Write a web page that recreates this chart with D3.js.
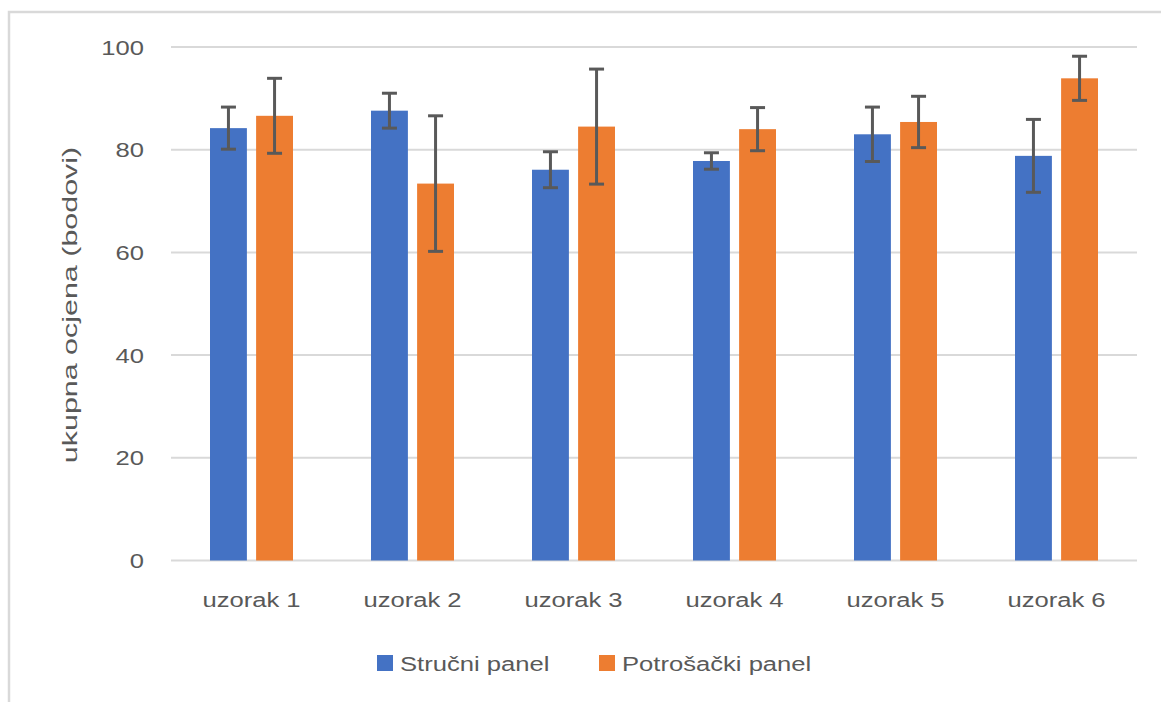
<!DOCTYPE html>
<html>
<head>
<meta charset="utf-8">
<script src="https://cdn.jsdelivr.net/npm/d3@7"></script>
<style>
  body { margin: 0; background: #fff; }
  text { font-family: "Liberation Sans", Arial, sans-serif; fill: #595959; }
</style>
</head>
<body>
<svg class="chart" width="1161" height="702"></svg>
<script>
var categories = ["uzorak 1", "uzorak 2", "uzorak 3", "uzorak 4", "uzorak 5", "uzorak 6"];
var seriesNames = ["Stručni panel", "Potrošački panel"];
var strucniValues = [84.2, 87.6, 76.1, 77.8, 83.0, 78.8];
var strucniErrors = [4.1, 3.4, 3.5, 1.6, 5.3, 7.1];
var potrosackiValues = [86.6, 73.4, 84.5, 84.0, 85.4, 93.9];
var potrosackiErrors = [7.3, 13.2, 11.2, 4.2, 5.0, 4.3];
var yTicks = [0, 20, 40, 60, 80, 100];
var yTitle = "ukupna ocjena (bodovi)";

var colors = ["#4472c4", "#ed7d31"];
var stretch = 1.22; // text in the picture is drawn a bit wide

var chart = d3.select(".chart");

// outer frame of the chart area
chart.append("rect")
    .attr("x", 9)
    .attr("y", 12)
    .attr("width", 1300)
    .attr("height", 800)
    .attr("fill", "none")
    .attr("stroke", "#d9d9d9")
    .attr("stroke-width", 2.5);

var x0 = d3.scaleBand()
    .domain(categories)
    .range([171, 1137]);

var x1 = d3.scaleBand()
    .domain(seriesNames)
    .range([x0.bandwidth() / 2 - 41.5, x0.bandwidth() / 2 + 41.5])
    .paddingInner(0.2);

var y = d3.scaleLinear()
    .domain([0, 100])
    .range([560.5, 47]);

// gridlines
chart.append("g").selectAll("line")
    .data(yTicks)
  .enter().append("line")
    .attr("x1", 171)
    .attr("x2", 1137)
    .attr("y1", function(d) { return y(d); })
    .attr("y2", function(d) { return y(d); })
    .attr("stroke", "#d9d9d9")
    .attr("stroke-width", 2);

// y tick labels
chart.append("g").selectAll("g")
    .data(yTicks)
  .enter().append("g")
    .attr("transform", function(d) { return "translate(144," + y(d) + ") scale(" + stretch + ",1)"; })
  .append("text")
    .attr("text-anchor", "end")
    .attr("dy", "0.36em")
    .attr("font-size", 21)
    .text(function(d) { return d; });

var table = categories.map(function(c, i) {
  return {
    category: c,
    bars: [
      { name: seriesNames[0], value: strucniValues[i], err: strucniErrors[i] },
      { name: seriesNames[1], value: potrosackiValues[i], err: potrosackiErrors[i] }
    ]
  };
});

var group = chart.append("g").selectAll("g")
    .data(table)
  .enter().append("g")
    .attr("transform", function(d) { return "translate(" + x0(d.category) + ",0)"; });

var bar = group.selectAll("g")
    .data(function(d) { return d.bars; })
  .enter().append("g");

bar.append("rect")
    .attr("x", function(d) { return x1(d.name); })
    .attr("width", x1.bandwidth())
    .attr("y", function(d) { return y(d.value); })
    .attr("height", function(d) { return y(0) - y(d.value); })
    .attr("fill", function(d, i) { return colors[i]; });

// error bars
bar.append("line")
    .attr("x1", function(d) { return x1(d.name) + x1.bandwidth() / 2; })
    .attr("x2", function(d) { return x1(d.name) + x1.bandwidth() / 2; })
    .attr("y1", function(d) { return y(d.value + d.err); })
    .attr("y2", function(d) { return y(d.value - d.err); })
    .attr("stroke", "#595959")
    .attr("stroke-width", 3);

[1, -1].forEach(function(sign) {
  bar.append("line")
      .attr("x1", function(d) { return x1(d.name) + x1.bandwidth() / 2 - 7.5; })
      .attr("x2", function(d) { return x1(d.name) + x1.bandwidth() / 2 + 7.5; })
      .attr("y1", function(d) { return y(d.value + sign * d.err); })
      .attr("y2", function(d) { return y(d.value + sign * d.err); })
      .attr("stroke", "#595959")
      .attr("stroke-width", 3);
});

// x labels
chart.append("g").selectAll("g")
    .data(categories)
  .enter().append("g")
    .attr("transform", function(d) { return "translate(" + (x0(d) + x0.bandwidth() / 2) + ",607) scale(" + stretch + ",1)"; })
  .append("text")
    .attr("text-anchor", "middle")
    .attr("font-size", 21)
    .text(function(d) { return d; });

// y title
chart.append("g")
    .attr("transform", "translate(70,305) rotate(-90) scale(1.45,1)")
  .append("text")
    .attr("text-anchor", "middle")
    .attr("dy", "0.35em")
    .attr("font-size", 21)
    .text(yTitle);

// legend
var legendX = [377, 599];
var legend = chart.append("g").selectAll("g")
    .data(seriesNames)
  .enter().append("g")
    .attr("transform", function(d, i) { return "translate(" + legendX[i] + ",0)"; });

legend.append("rect")
    .attr("y", 655)
    .attr("width", 16)
    .attr("height", 16)
    .attr("fill", function(d, i) { return colors[i]; });

legend.append("g")
    .attr("transform", "translate(23,671) scale(" + stretch + ",1)")
  .append("text")
    .attr("font-size", 21)
    .text(function(d) { return d; });
</script>
</body>
</html>
